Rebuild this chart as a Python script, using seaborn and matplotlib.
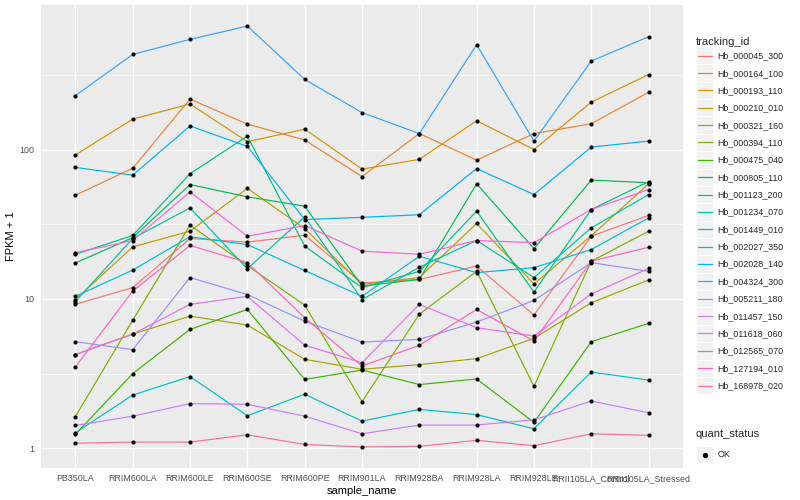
import numpy as np
import pandas as pd
import matplotlib
matplotlib.use("Agg")
import matplotlib.pyplot as plt
import seaborn as sns
from matplotlib.lines import Line2D
from matplotlib.patches import Rectangle
from matplotlib.legend_handler import HandlerBase
from matplotlib.ticker import FixedLocator, NullFormatter

# ---------------- data ----------------
samples = ["PB350LA", "RRIM600LA", "RRIM600LE", "RRIM600SE", "RRIM600PE",
           "RRIM901LA", "RRIM928BA", "RRIM928LA", "RRIM928LE",
           "RRII105LA_Control", "RRII105LA_Stressed"]

tracking_ids = ["Hb_000045_300", "Hb_000164_100", "Hb_000193_110", "Hb_000210_010",
                "Hb_000321_160", "Hb_000394_110", "Hb_000475_040", "Hb_000805_110",
                "Hb_001123_200", "Hb_001234_070", "Hb_001449_010", "Hb_002027_350",
                "Hb_002028_140", "Hb_004324_300", "Hb_005211_180", "Hb_011457_150",
                "Hb_011618_060", "Hb_012565_070", "Hb_127194_010", "Hb_168978_020"]

line_colors = ["#F8766D", "#EA8331", "#D89000", "#C09B00", "#A3A500", "#7CAE00",
               "#39B600", "#00BB4E", "#00BF7D", "#00C1A3", "#00BFC4", "#00BAE0",
               "#00B0F6", "#35A2FF", "#9590FF", "#C77CFF", "#E76BF3", "#FA62DB",
               "#FF62BC", "#FF6C91"]

# FPKM + 1 values, one list per transcript, in sample order
hb_000045_300 = [9.2, 11.9, 25.4, 24.0, 26.7, 12.8, 13.5, 16.6, 7.8, 26.3, 36.2]
hb_000164_100 = [49.5, 75, 218, 148, 116, 66, 128, 85, 128, 149, 242]
hb_000193_110 = [92, 160, 202, 113, 137, 74, 86, 156, 100, 208, 318]
hb_000210_010 = [9.9, 22.3, 28.4, 55, 29.6, 12.5, 13.9, 32, 12.6, 26.5, 59]
hb_000321_160 = [4.24, 5.81, 7.67, 6.68, 3.94, 3.38, 3.63, 3.98, 5.44, 9.43, 13.4]
hb_000394_110 = [1.63, 7.2, 31.2, 16.7, 9.1, 2.05, 7.9, 15.3, 2.6, 17.9, 28.4]
hb_000475_040 = [1.24, 3.16, 6.25, 8.5, 2.89, 3.34, 2.67, 2.91, 1.49, 5.17, 6.86]
hb_000805_110 = [17.4, 25.7, 58.3, 48.3, 41.8, 12.2, 13.5, 59, 21.7, 62.5, 60]
hb_001123_200 = [19.9, 26.6, 69, 123, 22.6, 11.9, 15.3, 38.7, 11.1, 39.7, 61]
hb_001234_070 = [9.6, 25.4, 40.7, 15.9, 35.5, 9.9, 16.3, 24.6, 13.9, 29.9, 50]
hb_001449_010 = [1.27, 2.27, 3.02, 1.65, 2.30, 1.52, 1.82, 1.68, 1.35, 3.24, 2.86]
hb_002027_350 = [10.4, 15.6, 26.1, 23.1, 15.5, 10.4, 19.3, 15.0, 16.2, 21.4, 34.9]
hb_002028_140 = [76, 67.4, 144, 105, 34, 35.2, 36.6, 74.6, 50, 104, 114]
hb_004324_300 = [230, 434, 547, 672, 295, 177, 128, 504, 114, 392, 570]
hb_005211_180 = [5.17, 4.57, 13.9, 10.7, 7.1, 5.14, 5.36, 7.0, 9.77, 17.5, 15.3]
hb_011457_150 = [1.42, 1.64, 1.99, 1.97, 1.64, 1.25, 1.43, 1.43, 1.55, 2.07, 1.73]
hb_011618_060 = [4.24, 5.81, 9.19, 10.4, 4.9, 3.74, 9.19, 6.42, 5.64, 10.8, 16.0]
hb_012565_070 = [20.4, 24.6, 52.1, 26.3, 31, 20.9, 19.9, 24.6, 23.8, 39.7, 54]
hb_127194_010 = [3.5, 11.3, 22.8, 17.5, 7.48, 3.55, 4.89, 8.5, 5.22, 17.9, 22.2]
hb_168978_020 = [1.08, 1.10, 1.10, 1.23, 1.06, 1.02, 1.03, 1.13, 1.04, 1.25, 1.22]

series_values = [hb_000045_300, hb_000164_100, hb_000193_110, hb_000210_010,
                 hb_000321_160, hb_000394_110, hb_000475_040, hb_000805_110,
                 hb_001123_200, hb_001234_070, hb_001449_010, hb_002027_350,
                 hb_002028_140, hb_004324_300, hb_005211_180, hb_011457_150,
                 hb_011618_060, hb_012565_070, hb_127194_010, hb_168978_020]

y_ticks = [1, 10, 100]
y_tick_labels = ["1", "10", "100"]

rows = []
for tid, vals in zip(tracking_ids, series_values):
    for s, v in zip(samples, vals):
        rows.append({"tracking_id": tid, "sample_name": s, "fpkm": v, "quant_status": "OK"})
df = pd.DataFrame(rows)
df["xpos"] = df["sample_name"].map({s: i for i, s in enumerate(samples)})

# ---------------- style ----------------
sns.set_theme(style="darkgrid", rc={
    "axes.facecolor": "#EBEBEB",
    "grid.color": "white",
    "axes.edgecolor": "none",
})
plt.rcParams["font.family"] = ["Liberation Sans", "DejaVu Sans"]

fig = plt.figure(figsize=(8, 5), dpi=100)
ax = fig.add_axes([41 / 800, 32 / 500, (683 - 41) / 800, (468 - 5) / 500])

palette = dict(zip(tracking_ids, line_colors))
sns.lineplot(data=df, x="xpos", y="fpkm", hue="tracking_id", palette=palette,
             estimator=None, sort=False, legend=False, linewidth=0.85, ax=ax, zorder=2)
sns.scatterplot(data=df, x="xpos", y="fpkm", color="black", s=9, linewidth=0,
                legend=False, ax=ax, zorder=3)

ax.set_yscale("log")
allv = np.concatenate([np.asarray(v, float) for v in series_values])
lo, hi = np.log10(allv.min()), np.log10(allv.max())
pad = 0.05 * (hi - lo)
ax.set_ylim(10 ** (lo - pad), 10 ** (hi + pad))
ax.set_xlim(-0.6, len(samples) - 1 + 0.6)

ax.set_xticks(range(len(samples)))
ax.set_xticklabels(samples)
ax.yaxis.set_major_locator(FixedLocator(y_ticks))
ax.set_yticklabels(y_tick_labels)
ax.yaxis.set_minor_locator(FixedLocator([10 ** (k + 0.5) for k in range(-1, 3)]))
ax.yaxis.set_minor_formatter(NullFormatter())

ax.grid(which="major", color="white", linewidth=1.0)
ax.grid(which="minor", axis="y", color="white", linewidth=0.5)
ax.grid(which="minor", axis="x", visible=False)
for sp in ax.spines.values():
    sp.set_visible(False)

ax.tick_params(axis="both", which="major", length=2.5, width=0.7, color="#333333",
               labelsize=6.4, labelcolor="#4D4D4D", pad=2)
ax.tick_params(axis="y", which="minor", length=0)

ax.set_xlabel("sample_name", fontsize=8, color="black", labelpad=2)
ax.set_ylabel("FPKM + 1", fontsize=8, color="black", labelpad=3)


# ---------------- legends ----------------
class KeyHandler(HandlerBase):
    def create_artists(self, legend, orig_handle, xdescent, ydescent, width, height,
                       fontsize, trans):
        rect = Rectangle((-xdescent, -ydescent), width, height, facecolor="#F2F2F2",
                         edgecolor="white", linewidth=0.8, transform=trans)
        yc = -ydescent + height / 2
        if orig_handle.get_marker() not in (None, "None", ""):
            art = Line2D([-xdescent + width / 2], [yc], marker="o", markersize=2.8,
                         color="black", linestyle="None", transform=trans)
        else:
            art = Line2D([-xdescent + 1.2, -xdescent + width - 1.2], [yc, yc],
                         color=orig_handle.get_color(), linewidth=0.9, transform=trans)
        return [rect, art]


LEG_FS = 6.4
KEY_PT = 12.5  # key size in points (~17 px)
hh = (KEY_PT / LEG_FS - 0.245) / 0.65
hl = KEY_PT / LEG_FS
common = dict(loc="upper left", frameon=False, handler_map={Line2D: KeyHandler()},
              handlelength=hl, handleheight=hh, labelspacing=0.0, handletextpad=0.45,
              fontsize=LEG_FS, title_fontsize=8, alignment="left", borderpad=0,
              borderaxespad=0)

line_handles = [Line2D([], [], color=c) for c in line_colors]
leg1 = fig.legend(line_handles, tracking_ids, title="tracking_id",
                  bbox_to_anchor=(696 / 800, 1 - 37 / 500), **common)

pt_handle = [Line2D([], [], marker="o", color="black", linestyle="None")]
leg2 = fig.legend(pt_handle, sorted(df["quant_status"].unique()), title="quant_status",
                  bbox_to_anchor=(696 / 800, 1 - 429 / 500), **common)
leg2._legend_box.sep = 5

fig.savefig("out.png", dpi=100)
